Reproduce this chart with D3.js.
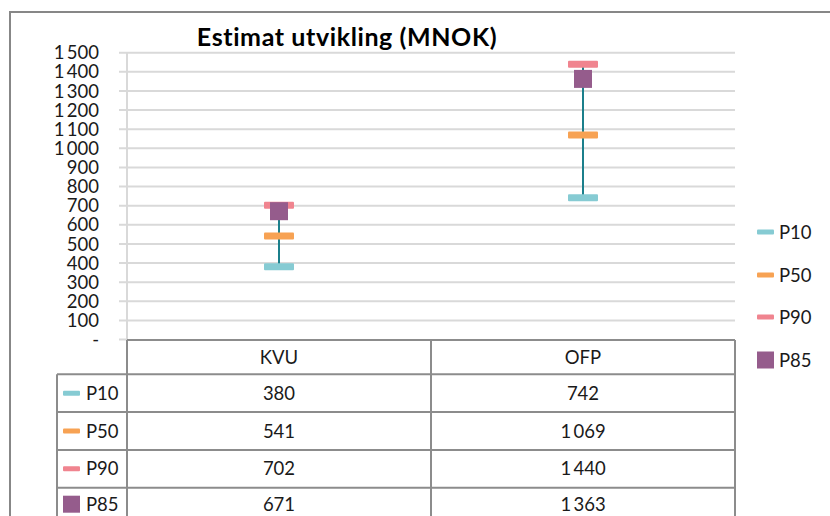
<!DOCTYPE html>
<html>
<head>
<meta charset="utf-8">
<script src="https://cdn.jsdelivr.net/npm/d3@7"></script>
<style>
  html, body { margin: 0; padding: 0; background: #fff; }
  svg { display: block; font-family: Lato, "Open Sans", sans-serif; }
</style>
</head>
<body>
<svg id="chart" width="830" height="516"></svg>
<script>
// Estimate data (MNOK)
const categories = ["KVU", "OFP"];
const seriesNames = ["P10", "P50", "P90", "P85"];
const p10 = [380, 742];
const p50 = [541, 1069];
const p90 = [702, 1440];
const p85 = [671, 1363];
const yTicks = [0, 100, 200, 300, 400, 500, 600, 700, 800, 900, 1000, 1100, 1200, 1300, 1400, 1500];
const title = "Estimat utvikling (MNOK)";

const seriesValues = { P10: p10, P50: p50, P90: p90, P85: p85 };
const colors = { P10: "#86cbd3", P50: "#f7a253", P90: "#f0848f", P85: "#955c8c" };
const shapes = { P10: "dash", P50: "dash", P90: "dash", P85: "square" };

const svg = d3.select("#chart");
const W = 830, H = 516;
const plot = { left: 127, right: 735, top: 52.7, bottom: 339.5 };
const fs = 18.5;

// thousands with a space, zero shown as a dash
const fmtNum = v => v === 0 ? "-" : d3.format(",")(v).replace(/,/g, "\u2009");
const fmtCell = v => d3.format(",")(v).replace(/,/g, "\u2009");

svg.append("rect").attr("width", W).attr("height", H).attr("fill", "#fff");

// chart frame
svg.append("rect")
  .attr("x", 10).attr("y", 12).attr("width", 840).attr("height", 540)
  .attr("fill", "none").attr("stroke", "#878787").attr("stroke-width", 2);

const x = d3.scaleBand().domain(categories).range([plot.left, plot.right]);
const y = d3.scaleLinear().domain([0, 1500]).range([plot.bottom, plot.top]);

// gridlines
svg.append("g").selectAll("line").data(yTicks.filter(t => t > 0)).join("line")
  .attr("x1", plot.left - 8).attr("x2", plot.right)
  .attr("y1", d => y(d)).attr("y2", d => y(d))
  .attr("stroke", "#d9d9d9").attr("stroke-width", 2);

// value axis line
svg.append("line")
  .attr("x1", plot.left).attr("x2", plot.left)
  .attr("y1", plot.top).attr("y2", plot.bottom)
  .attr("stroke", "#d9d9d9").attr("stroke-width", 2);
svg.append("line")
  .attr("x1", plot.left - 8).attr("x2", plot.left)
  .attr("y1", y(0)).attr("y2", y(0))
  .attr("stroke", "#d9d9d9").attr("stroke-width", 2);

// y tick labels
svg.append("g").selectAll("text").data(yTicks).join("text")
  .attr("x", 99).attr("y", d => y(d))
  .attr("dy", "0.36em")
  .attr("text-anchor", "end")
  .attr("font-size", fs)
  .attr("fill", "#1a1a1a")
  .text(fmtNum);

// title
svg.append("text")
  .attr("x", 347).attr("y", 46)
  .attr("text-anchor", "middle")
  .attr("font-size", 25).attr("font-weight", "bold")
  .attr("letter-spacing", 0.6)
  .attr("fill", "#000")
  .text(title);

// high-low lines
const cx = c => x(c) + x.bandwidth() / 2;
svg.append("g").selectAll("line").data(categories).join("line")
  .attr("x1", cx).attr("x2", cx)
  .attr("y1", (c, i) => y(d3.min(seriesNames, s => seriesValues[s][i])))
  .attr("y2", (c, i) => y(d3.max(seriesNames, s => seriesValues[s][i])))
  .attr("stroke", "#1b7f8b").attr("stroke-width", 2);

// markers
seriesNames.forEach(s => {
  const g = svg.append("g");
  const pts = categories.map((c, i) => ({ c, v: seriesValues[s][i] }));
  if (shapes[s] === "dash") {
    g.selectAll("rect").data(pts).join("rect")
      .attr("x", d => cx(d.c) - 15).attr("y", d => y(d.v) - 3.5)
      .attr("width", 30).attr("height", 7).attr("rx", 1)
      .attr("fill", colors[s]);
  } else {
    g.selectAll("rect").data(pts).join("rect")
      .attr("x", d => cx(d.c) - 9).attr("y", d => y(d.v) - 9)
      .attr("width", 18).attr("height", 18)
      .attr("fill", colors[s]);
  }
});

// data table
const tbl = svg.append("g");
const colEdges = [57, plot.left, x("OFP"), plot.right];
const headTop = 340, headBottom = 374.3, rowH = 37.8;
const rowTop = i => headBottom + i * rowH;
const tableStroke = "#8c8c8c";

// header row
tbl.append("line").attr("x1", plot.left).attr("x2", plot.right)
  .attr("y1", headTop).attr("y2", headTop)
  .attr("stroke", tableStroke).attr("stroke-width", 2);
// horizontal row lines
tbl.selectAll("line.h").data(d3.range(seriesNames.length + 1)).join("line")
  .attr("class", "h")
  .attr("x1", colEdges[0]).attr("x2", plot.right)
  .attr("y1", i => rowTop(i)).attr("y2", i => rowTop(i))
  .attr("stroke", tableStroke).attr("stroke-width", 2);
// vertical lines
tbl.append("line").attr("x1", colEdges[0]).attr("x2", colEdges[0])
  .attr("y1", rowTop(0)).attr("y2", rowTop(seriesNames.length))
  .attr("stroke", tableStroke).attr("stroke-width", 2);
[plot.left, x("OFP"), plot.right].forEach(xx => {
  tbl.append("line").attr("x1", xx).attr("x2", xx)
    .attr("y1", headTop).attr("y2", rowTop(seriesNames.length))
    .attr("stroke", tableStroke).attr("stroke-width", 2);
});

// header labels
tbl.selectAll("text.head").data(categories).join("text")
  .attr("class", "head")
  .attr("x", cx).attr("y", (headTop + headBottom) / 2)
  .attr("dy", "0.36em").attr("text-anchor", "middle")
  .attr("font-size", fs).attr("fill", "#1a1a1a")
  .text(d => d);

// legend key swatch
function key(g, s, x0, yMid) {
  if (shapes[s] === "square") {
    g.append("rect").attr("x", x0).attr("y", yMid - 8.5)
      .attr("width", 17).attr("height", 17).attr("fill", colors[s]);
  } else {
    g.append("rect").attr("x", x0).attr("y", yMid - 2.5)
      .attr("width", 17).attr("height", 5).attr("rx", 1).attr("fill", colors[s]);
  }
}

seriesNames.forEach((s, r) => {
  // last row sits at the bottom edge of the frame, so its text is lifted slightly
  const mid = rowTop(r) + (r === seriesNames.length - 1 ? 16.5 : rowH / 2);
  key(tbl, s, 63, mid);
  tbl.append("text").attr("x", 86).attr("y", mid).attr("dy", "0.36em")
    .attr("font-size", fs).attr("fill", "#1a1a1a").text(s);
  categories.forEach((c, i) => {
    tbl.append("text").attr("x", cx(c)).attr("y", mid).attr("dy", "0.36em")
      .attr("text-anchor", "middle")
      .attr("font-size", fs).attr("fill", "#1a1a1a")
      .text(fmtCell(seriesValues[s][i]));
  });
});

// legend
const legY = [232, 275, 317, 360];
const leg = svg.append("g");
seriesNames.forEach((s, i) => {
  key(leg, s, 757, legY[i]);
  leg.append("text").attr("x", 779).attr("y", legY[i]).attr("dy", "0.36em")
    .attr("font-size", fs).attr("fill", "#1a1a1a").text(s);
});
</script>
</body>
</html>
